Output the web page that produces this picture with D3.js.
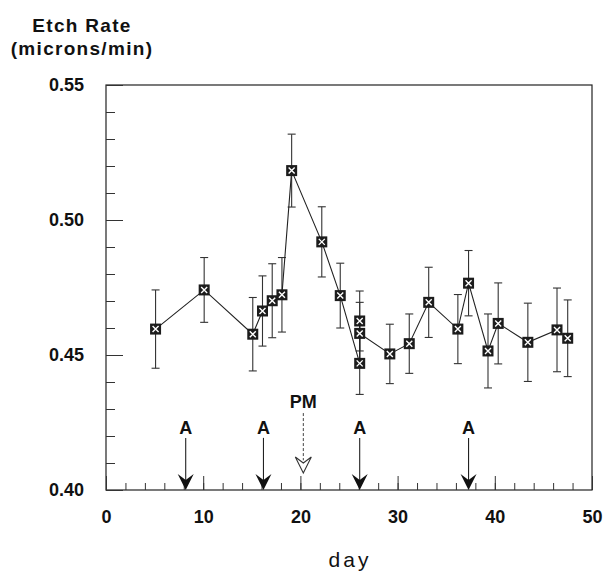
<!DOCTYPE html>
<html>
<head>
<meta charset="utf-8">
<script src="https://cdn.jsdelivr.net/npm/d3@7"></script>
<style>
  body { margin: 0; background: #fff; }
  text { font-family: "Liberation Sans", Arial, sans-serif; fill: #111; }
</style>
</head>
<body>
<div id="chart"></div>
<script>
(function(){

const width = 607;
const height = 574;
const margin = {top:85, right:14, bottom:84, left:106};

// measured etch rate by day (three runs on day 26)
const days   = [5.1, 10.1, 15.1, 16.1, 17.1, 18.1, 19.1, 22.2, 24.1, 26.1, 26.1, 26.1, 29.2, 31.2, 33.2, 36.2, 37.3, 39.3, 40.35, 43.4, 46.4, 47.5];
const rates  = [0.4596, 0.4741, 0.4577, 0.4663, 0.4701, 0.4723, 0.5183, 0.4919, 0.4720, 0.4469, 0.4626, 0.4580, 0.4504, 0.4542, 0.4695, 0.4596, 0.4766, 0.4515, 0.4617, 0.4547, 0.4593, 0.4562];
const errors = [0.0145, 0.0120, 0.0136, 0.0130, 0.0137, 0.0138, 0.0135, 0.0130, 0.0120, 0.0115, 0.0111, 0.0115, 0.0110, 0.0110, 0.0130, 0.0128, 0.0121, 0.0137, 0.0150, 0.0145, 0.0155, 0.0142];

// annotations
const aDays = [8.2, 16.2, 26.1, 37.3];
const aLabel = "A";
const pmDay = 20.3;
const pmLabel = "PM";

// axes
const xMajor = [0, 10, 20, 30, 40, 50];
const xMinor = d3.range(0, 51, 2);
const yMajor = [0.40, 0.45, 0.50, 0.55];
const yMinor = d3.range(0.40, 0.5501, 0.01);

const data = days.map((d, i) => ({day: d, rate: rates[i], err: errors[i]}));

const svg = d3.select("#chart")
  .append("svg")
  .attr("width", width)
  .attr("height", height);

// X scale
const x = d3.scaleLinear()
  .domain([0, 50])
  .range([margin.left, width - margin.right - 1]);

// Y scale
const y = d3.scaleLinear()
  .domain([0.40, 0.55])
  .range([height - margin.bottom, margin.top]);

// frame
svg.append("rect")
  .attr("x", x(0))
  .attr("y", y(0.55))
  .attr("width", x(50) - x(0))
  .attr("height", y(0.40) - y(0.55))
  .attr("fill", "none")
  .attr("stroke", "#222")
  .attr("stroke-width", 1.2);

// X axis minor ticks
svg.append("g")
  .attr("transform", `translate(0,${y(0.40)})`)
  .call(d3.axisBottom(x).tickValues(xMinor).tickSize(-7).tickFormat(""))
  .call(g => g.select(".domain").remove())
  .call(g => g.selectAll("line").attr("stroke", "#333"));

// X axis major ticks + labels
svg.append("g")
  .attr("transform", `translate(0,${y(0.40)})`)
  .call(d3.axisBottom(x).tickValues(xMajor).tickSize(-14).tickPadding(20).tickFormat(d3.format("d")))
  .call(g => g.select(".domain").remove())
  .call(g => g.selectAll("line").attr("stroke", "#333"))
  .call(g => g.selectAll("text")
    .style("font-size", "18px")
    .style("font-weight", "bold")
    .attr("fill", "#111"));

// Y axis minor ticks
svg.append("g")
  .attr("transform", `translate(${x(0)},0)`)
  .call(d3.axisLeft(y).tickValues(yMinor).tickSize(-9).tickFormat(""))
  .call(g => g.select(".domain").remove())
  .call(g => g.selectAll("line").attr("stroke", "#333"));

// Y axis major ticks + labels
svg.append("g")
  .attr("transform", `translate(${x(0)},0)`)
  .call(d3.axisLeft(y).tickValues(yMajor).tickSize(-17).tickPadding(22).tickFormat(d3.format(".2f")))
  .call(g => g.select(".domain").remove())
  .call(g => g.selectAll("line").attr("stroke", "#333"))
  .call(g => g.selectAll("text")
    .style("font-size", "18px")
    .style("font-weight", "bold")
    .attr("fill", "#111"));

// axis titles
const yTitle = svg.append("text")
  .attr("x", 82)
  .attr("text-anchor", "middle")
  .style("font-size", "19px")
  .style("font-weight", "bold")
  .style("letter-spacing", "1.3px");
yTitle.append("tspan").attr("x", 82).attr("y", 32).text("Etch Rate");
yTitle.append("tspan").attr("x", 82).attr("y", 55).text("(microns/min)");

svg.append("text")
  .attr("x", 350)
  .attr("y", 567)
  .attr("text-anchor", "middle")
  .style("font-size", "21px")
  .style("letter-spacing", "3px")
  .text("day");

// event arrows
const head = "M0,0 L-8,-16 L0,-10 L8,-16 Z";

const ev = svg.selectAll(".ev")
  .data(aDays)
  .enter()
  .append("g")
  .attr("class", "ev")
  .attr("transform", d => `translate(${x(d)},0)`);

ev.append("text")
  .attr("y", y(0.4207))
  .attr("text-anchor", "middle")
  .style("font-size", "18px")
  .style("font-weight", "bold")
  .text(aLabel);

ev.append("line")
  .attr("y1", y(0.4193))
  .attr("y2", y(0.4020))
  .attr("stroke", "#222")
  .attr("stroke-width", 1.1);

ev.append("path")
  .attr("transform", `translate(0,${y(0.40)})`)
  .attr("d", head)
  .attr("fill", "#111");

// PM arrow (open head, dashed shaft)
const pm = svg.append("g")
  .attr("transform", `translate(${x(pmDay)},0)`);

pm.append("text")
  .attr("y", y(0.4304))
  .attr("text-anchor", "middle")
  .style("font-size", "18px")
  .style("font-weight", "bold")
  .text(pmLabel);

pm.append("line")
  .attr("y1", y(0.4285))
  .attr("y2", y(0.4110))
  .attr("stroke", "#444")
  .attr("stroke-width", 1)
  .attr("stroke-dasharray", "3,2");

pm.append("path")
  .attr("transform", `translate(0,${y(0.4063)})`)
  .attr("d", head)
  .attr("fill", "#fff")
  .attr("stroke", "#333")
  .attr("stroke-width", 1.1);

// error bars
const eb = svg.selectAll(".eb")
  .data(data)
  .enter()
  .append("g")
  .attr("class", "eb")
  .attr("stroke", "#333")
  .attr("stroke-width", 1.1);

eb.append("line")
  .attr("x1", d => x(d.day))
  .attr("x2", d => x(d.day))
  .attr("y1", d => y(d.rate + d.err))
  .attr("y2", d => y(d.rate - d.err));

eb.append("line")
  .attr("x1", d => x(d.day) - 4)
  .attr("x2", d => x(d.day) + 4)
  .attr("y1", d => y(d.rate + d.err))
  .attr("y2", d => y(d.rate + d.err));

eb.append("line")
  .attr("x1", d => x(d.day) - 4)
  .attr("x2", d => x(d.day) + 4)
  .attr("y1", d => y(d.rate - d.err))
  .attr("y2", d => y(d.rate - d.err));

// connecting line
const line = d3.line()
  .x(d => x(d.day))
  .y(d => y(d.rate));

svg.append("path")
  .datum(data)
  .attr("fill", "none")
  .attr("stroke", "#222")
  .attr("stroke-width", 1.1)
  .attr("d", line);

// markers: dark square with a white cross
const mk = svg.selectAll(".mk")
  .data(data)
  .enter()
  .append("g")
  .attr("class", "mk")
  .attr("transform", d => `translate(${x(d.day)},${y(d.rate)})`);

mk.append("rect")
  .attr("x", -5.5)
  .attr("y", -5.5)
  .attr("width", 11)
  .attr("height", 11)
  .attr("fill", "#1c1c1c");

mk.append("path")
  .attr("d", "M-3,-3 L3,3 M-3,3 L3,-3")
  .attr("stroke", "#fff")
  .attr("stroke-width", 1.4);

})();
</script>
</body>
</html>
